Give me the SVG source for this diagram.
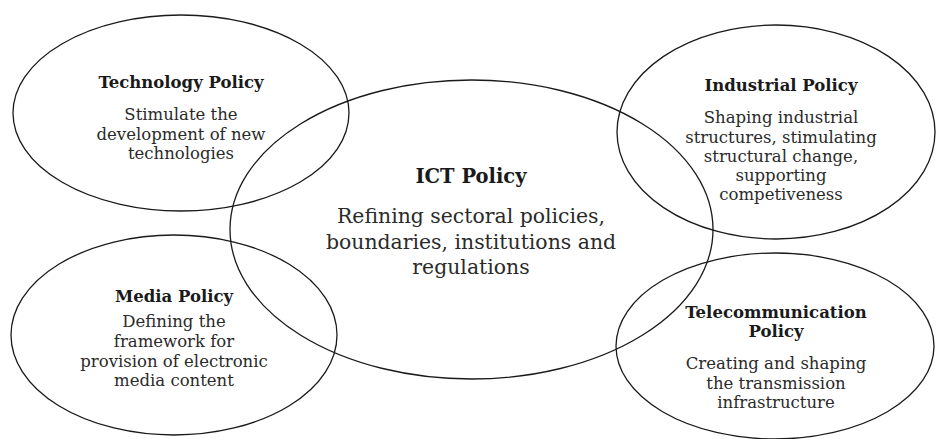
<svg xmlns="http://www.w3.org/2000/svg" width="936" height="439" viewBox="0 0 936 439">
<style>
.e{fill:none;stroke:#1a1a1a;stroke-width:1.3}
.t{font-family:"DejaVu Serif","Liberation Serif",serif;font-weight:bold;font-size:16.5px;fill:#1a1a1a;text-anchor:middle}
.b{font-family:"DejaVu Serif","Liberation Serif",serif;font-size:16.5px;fill:#2a2a2a;text-anchor:middle}
.T{font-family:"DejaVu Serif","Liberation Serif",serif;font-weight:bold;font-size:19.5px;fill:#1a1a1a;text-anchor:middle}
.B{font-family:"DejaVu Serif","Liberation Serif",serif;font-size:20.4px;fill:#2a2a2a;text-anchor:middle}
</style>
<rect width="936" height="439" fill="#fff"/>
<g id="connectors"/>
<g id="technology">
<ellipse class="e" cx="181" cy="113" rx="168" ry="98"/>
<text class="t" x="181" y="88">Technology Policy</text>
<text class="b" x="181" y="120">Stimulate the</text>
<text class="b" x="181" y="139.5">development of new</text>
<text class="b" x="181" y="159">technologies</text>
</g>
<g id="industrial">
<ellipse class="e" cx="776" cy="132" rx="159" ry="107"/>
<text class="t" x="781" y="91">Industrial Policy</text>
<text class="b" x="781" y="123">Shaping industrial</text>
<text class="b" x="781" y="142.5">structures, stimulating</text>
<text class="b" x="781" y="162">structural change,</text>
<text class="b" x="781" y="181">supporting</text>
<text class="b" x="781" y="200">competiveness</text>
</g>
<g id="media">
<ellipse class="e" cx="174" cy="335" rx="163" ry="100"/>
<text class="t" x="174" y="302">Media Policy</text>
<text class="b" x="174" y="327">Defining the</text>
<text class="b" x="174" y="347">framework for</text>
<text class="b" x="174" y="366.5">provision of electronic</text>
<text class="b" x="174" y="386">media content</text>
</g>
<g id="telecommunication">
<ellipse class="e" cx="775" cy="346" rx="159" ry="93"/>
<text class="t" x="776" y="318">Telecommunication</text>
<text class="t" x="776" y="337">Policy</text>
<text class="b" x="776" y="369">Creating and shaping</text>
<text class="b" x="776" y="388.5">the transmission</text>
<text class="b" x="776" y="408">infrastructure</text>
</g>
<g id="ict">
<ellipse class="e" cx="471.5" cy="229.5" rx="241.5" ry="149.5"/>
<text class="T" x="471" y="183">ICT Policy</text>
<text class="B" x="471" y="223">Refining sectoral policies,</text>
<text class="B" x="471" y="249">boundaries, institutions and</text>
<text class="B" x="471" y="274">regulations</text>
</g>
</svg>
